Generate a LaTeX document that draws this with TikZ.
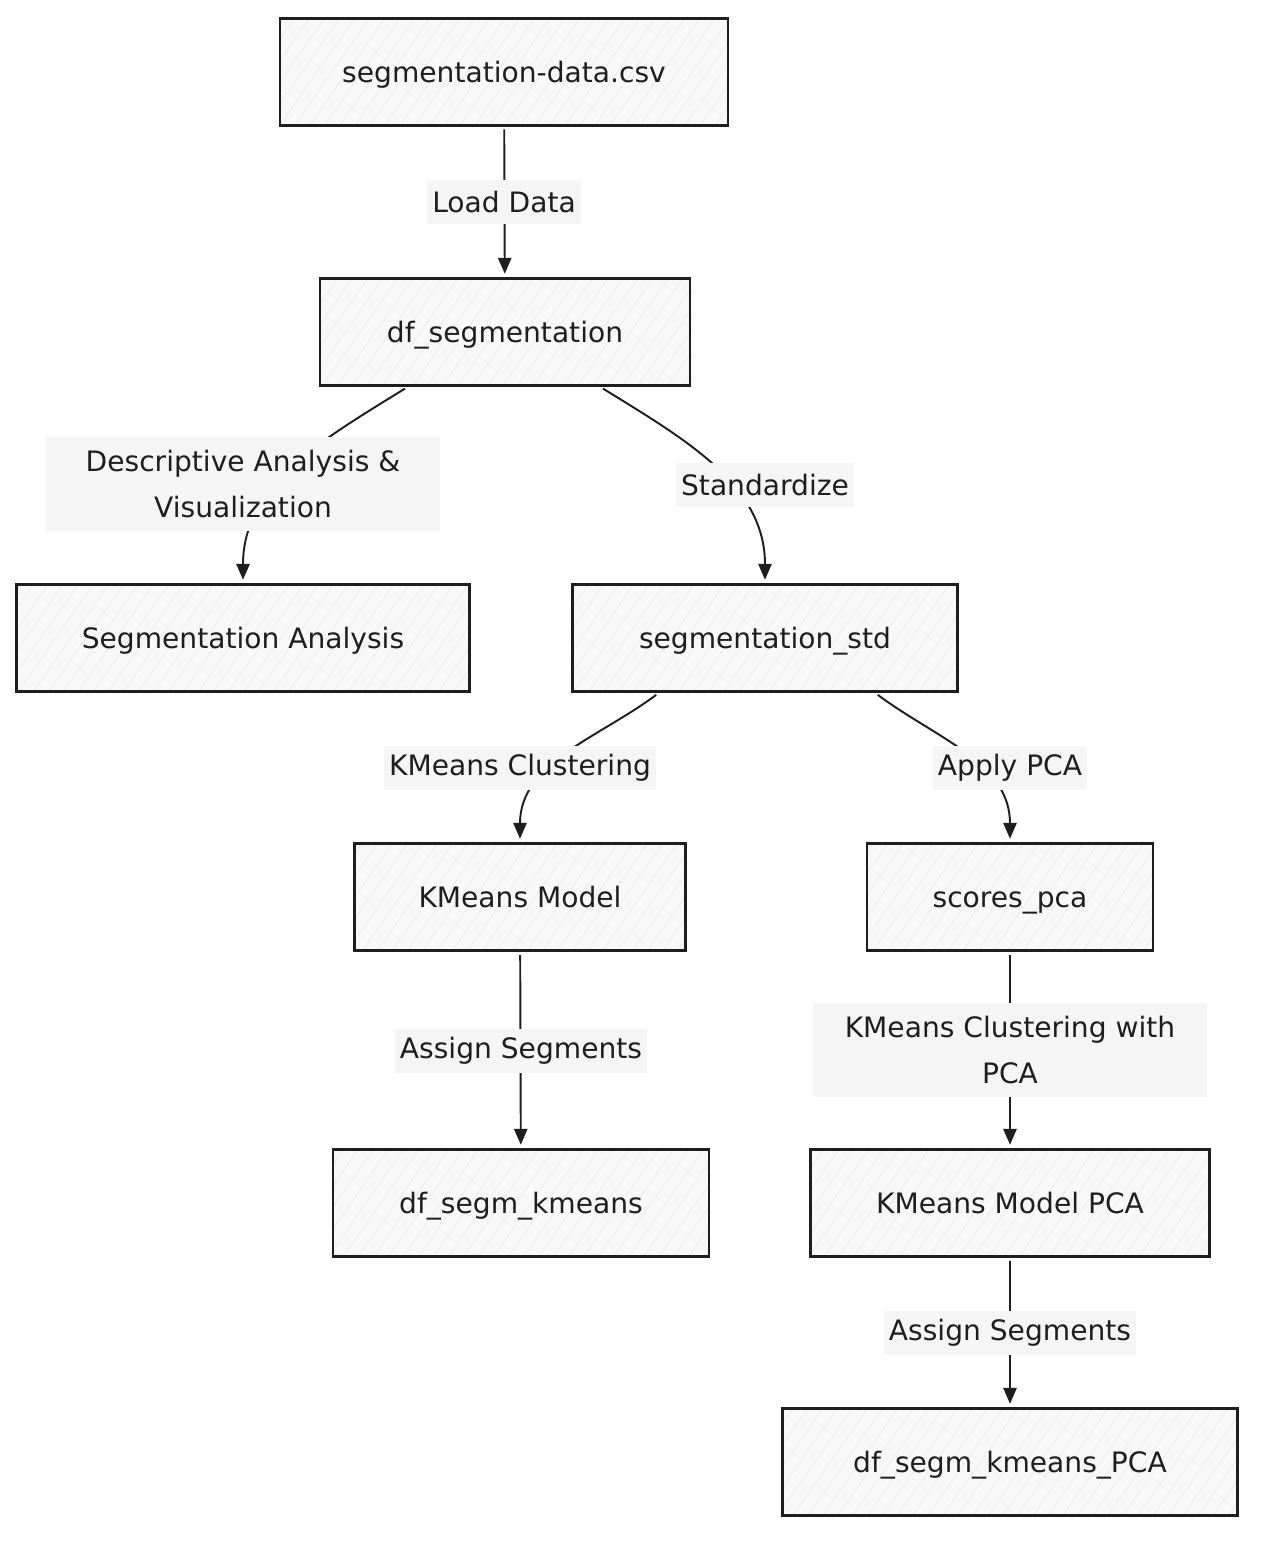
\documentclass[tikz,border=0pt]{standalone}
\usepackage{fontspec}
\setmainfont{DejaVu Sans}
\usepackage{tikz}
\usetikzlibrary{arrows.meta,patterns.meta}
\definecolor{ink}{HTML}{1E1E1E}
\definecolor{boxfill}{HTML}{F8F8F8}
\definecolor{hatch}{HTML}{ECECEC}
\definecolor{lblfill}{HTML}{F5F5F5}
\tikzset{>={Triangle[length=9pt,width=7.5pt]}}
\tikzset{
  box/.style={draw=ink,line width=1.4pt,preaction={fill=boxfill},
    pattern={Lines[angle=55,distance=7pt,line width=0.5pt]},pattern color=hatch,
    minimum height=2.14cm,text height=16pt,text depth=4pt,
    text=ink,font=\fontsize{16}{26}\selectfont},
  lbl/.style={fill=lblfill,inner xsep=3pt,minimum height=0.88cm,align=center,
    text=ink,font=\fontsize{16}{26}\selectfont},
  link/.style={->,draw=ink,line width=1.1pt,shorten >=2pt,shorten <=2pt}
}

\begin{document}
\begin{tikzpicture}[x=0.02cm,y=-0.02cm]
      \useasboundingbox (0,0) rectangle (1272,1554);
      \node[box,minimum width=8.96cm] (csv)     at (504,72)    {segmentation-data.csv};
      \node[box,minimum width=7.4cm]  (dfseg)   at (505,332)   {df\_segmentation};
      \node[box,minimum width=9.06cm] (anal)    at (243,638)   {Segmentation Analysis};
      \node[box,minimum width=7.7cm]  (std)     at (765,638)   {segmentation\_std};
      \node[box,minimum width=6.62cm] (km)      at (520,897)   {KMeans Model};
      \node[box,minimum width=5.72cm] (pca)     at (1010,897)  {scores\_pca};
      \node[box,minimum width=7.52cm] (dfkm)    at (521,1203)  {df\_segm\_kmeans};
      \node[box,minimum width=7.98cm] (kmpca)   at (1010,1203) {KMeans Model PCA};
      \node[box,minimum width=9.1cm]  (dfkmpca) at (1010,1462) {df\_segm\_kmeans\_PCA};
      \draw[link] (csv) -- (dfseg);
      \draw[link] ([xshift=-1.94cm]dfseg.south) .. controls +(-84,52) and +(0,-99) .. (anal.north);
      \draw[link] ([xshift=1.9cm]dfseg.south) .. controls +(84,52) and +(0,-99) .. (std.north);
      \draw[link] ([xshift=-2.12cm]std.south) .. controls +(-60,45) and +(0,-80) .. (km.north);
      \draw[link] ([xshift=2.2cm]std.south) .. controls +(60,45) and +(0,-80) .. (pca.north);
      \draw[link] (km) -- (dfkm);
      \draw[link] (pca) -- (kmpca);
      \draw[link] (kmpca) -- (dfkmpca);
      \node[lbl] (lload) at (504,202) {Load Data};
      \node[lbl,minimum width=7.88cm,minimum height=1.88cm] (ldesc) at (243,484) {Descriptive Analysis \&\\Visualization};
      \node[lbl] (lstd) at (765,485) {Standardize};
      \node[lbl] (lkm) at (520,768) {KMeans Clustering};
      \node[lbl] (lpca) at (1010,768) {Apply PCA};
      \node[lbl] (lsega) at (521,1051) {Assign Segments};
      \node[lbl,minimum width=7.9cm,minimum height=1.88cm] (lkmpca) at (1010,1050) {KMeans Clustering with\\PCA};
      \node[lbl] (lsegb) at (1010,1333) {Assign Segments};
    \end{tikzpicture}
\end{document}
